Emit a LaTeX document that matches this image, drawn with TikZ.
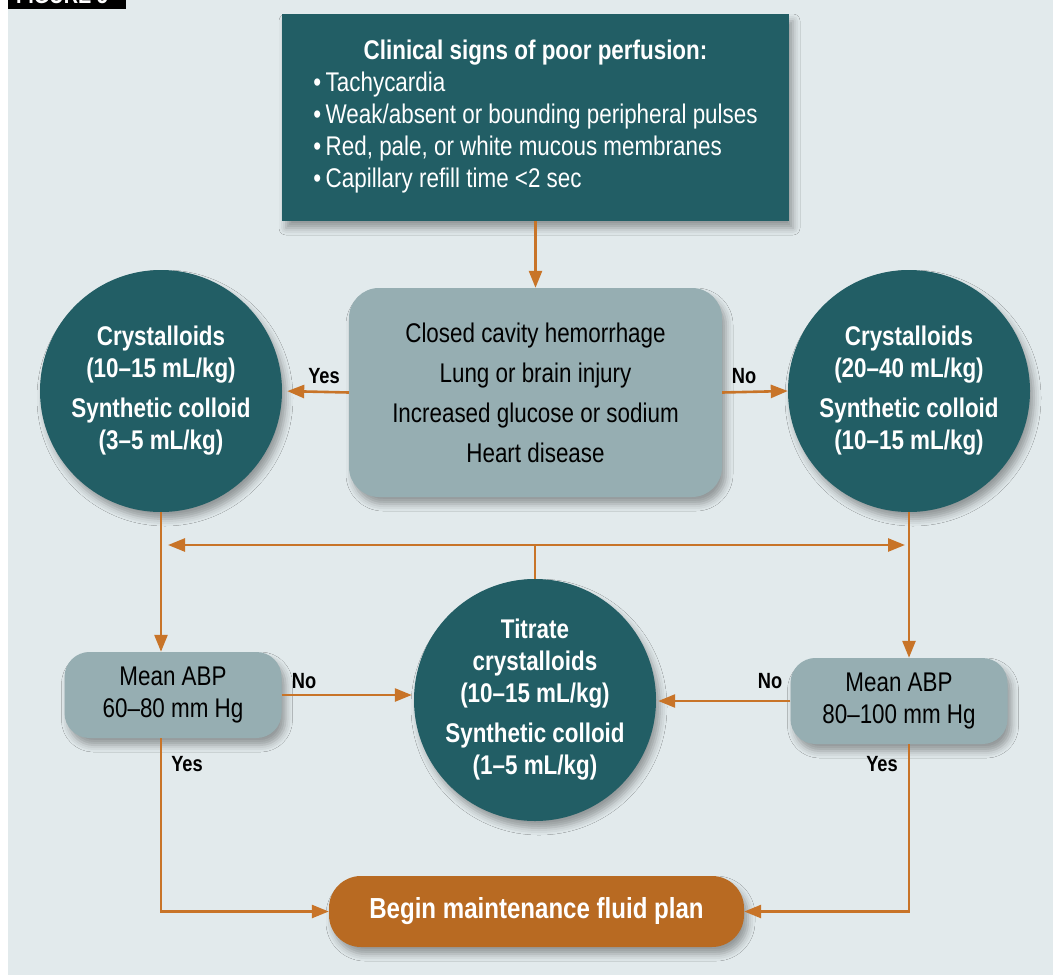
\documentclass[tikz,border=0pt]{standalone}
\usepackage{fontspec}
\setmainfont{Liberation Sans}[FakeStretch=0.83]
\usetikzlibrary{arrows.meta, positioning, calc, shadows.blur}
\definecolor{fteal}{HTML}{225E65}
\definecolor{fslate}{HTML}{96AEB2}
\definecolor{forange}{HTML}{C87428}
\definecolor{fburnt}{HTML}{B86A22}
\definecolor{fbg}{HTML}{E2EAEC}
\newcommand{\txtfont}{\fontsize{27}{32}\selectfont}
\tikzset{
  softshadow/.style={blur shadow={shadow xshift=4pt, shadow yshift=-7pt,
                     shadow blur radius=7pt, shadow opacity=35}},
  signbox/.style={fill=fteal, text=white, minimum width=507pt, minimum height=207pt,
                  inner sep=0pt, font=\txtfont, softshadow},
  askbox/.style={fill=fslate, text=black, rounded corners=30pt, minimum width=373pt,
                 minimum height=209pt, inner sep=0pt, align=center,
                 font=\fontsize{27}{40}\selectfont, softshadow},
  mapbox/.style={fill=fslate, text=black, rounded corners=25pt, minimum width=217pt,
                 minimum height=86pt, inner sep=0pt, align=center, font=\txtfont, softshadow},
  fluid/.style={circle, fill=fteal, text=white, minimum size=242pt, inner sep=0pt,
                align=center, font=\txtfont\bfseries, softshadow},
  planbox/.style={fill=fburnt, text=white, rounded corners=32pt, minimum width=415pt,
                  minimum height=71pt, inner sep=0pt, font=\fontsize{29}{32}\selectfont\bfseries,
                  softshadow},
  lbl/.style={font=\fontsize{22}{24}\selectfont\bfseries, text=black, inner sep=0pt},
  arr/.style={-{Triangle[length=17pt,width=13pt]}, line width=2.6pt, draw=forange},
  darr/.style={{Triangle[length=17pt,width=13pt]}-{Triangle[length=17pt,width=13pt]},
               line width=2.6pt, draw=forange},
  ln/.style={line width=2.6pt, draw=forange},
}
\begin{document}
\begin{tikzpicture}[x=1pt, y=-1pt]
  \useasboundingbox (0,0) rectangle (1053,975);
  \fill[white] (0,0) rectangle (1053,975);
  \fill[fbg] (8,0) rectangle (1053,975);
  % Kopfbalken (oben abgeschnitten)
  \fill[black] (8,0) rectangle (126,9);
  \begin{scope}
    \clip (8,0) rectangle (126,9);
    \node[anchor=base west, inner sep=0pt, text=white,
          font=\fontsize{24}{24}\selectfont\bfseries] (fig) at (16,3.5) {FIGURE 5};
  \end{scope}

  % Zeichen der Minderperfusion
  \node[signbox] (signs) at (535.5,117.5) {\raisebox{-4pt}{\begin{tabular}{@{}l@{}}
      \multicolumn{1}{@{}c@{}}{\bfseries Clinical signs of poor perfusion:}\\
      •\,Tachycardia\\
      •\,Weak/absent or bounding peripheral pulses\\
      •\,Red, pale, or white mucous membranes\\
      •\,Capillary refill time <2 sec
    \end{tabular}}};

  % Frage (Mitte)
  \node[askbox] (ask) at (535.5,392.5) {Closed cavity hemorrhage\\
    Lung or brain injury\\ Increased glucose or sodium\\ Heart disease};

  % Kreise links / rechts
  \node[fluid] (lowvol) at (161,391) {Crystalloids\\(10–15 mL/kg)\\[8pt]
    Synthetic colloid\\(3–5 mL/kg)};
  \node[fluid] (highvol) at (909,391) {Crystalloids\\(20–40 mL/kg)\\[8pt]
    Synthetic colloid\\(10–15 mL/kg)};

  % Titration (Mitte unten)
  \node[fluid] (titr) at (535,700) {Titrate\\crystalloids\\(10–15 mL/kg)\\[8pt]
    Synthetic colloid\\(1–5 mL/kg)};

  % MAP-Kontrollen
  \node[mapbox] (lmap) at (173,695) {Mean ABP\\60–80 mm Hg};
  \node[mapbox] (rmap) at (899,701) {Mean ABP\\80–100 mm Hg};

  % Ziel
  \node[planbox] (plan) at (536.5,911.5) {Begin maintenance fluid plan};

  % Verbindungen
  \draw[arr] (signs.south) -- (ask.north);
  \draw[arr, shorten >=5pt] (ask.west) -- (lowvol.east);
  \draw[arr] (ask.east) -- (highvol.west);
  \node[lbl] (yes1) at (324,376) {Yes};
  \node[lbl] (no1) at (744,376) {No};

  \draw[arr] (lowvol.south) -- (lowvol.south |- lmap.north);
  \draw[arr] (highvol.south) -- (highvol.south |- rmap.north);

  \coordinate (hl) at (168,545);
  \coordinate (hr) at (905,545);
  \draw[darr] (hl) -- (hr);
  \draw[ln] (titr.north) -- (titr.north |- hl);

  \draw[arr, shorten >=2pt] (lmap.east) -- (lmap.east -| titr.west);
  \draw[arr, shorten >=2pt] (rmap.west) -- (rmap.west -| titr.east);
  \node[lbl] (no2) at (304,681) {No};
  \node[lbl] (no3) at (770,681) {No};

  \draw[arr] (lowvol.south |- lmap.south) |- (plan.west);
  \draw[arr] (highvol.south |- rmap.south) |- (plan.east);
  \node[lbl] (yes2) at (187,764) {Yes};
  \node[lbl] (yes3) at (882,764) {Yes};
\end{tikzpicture}
\end{document}
